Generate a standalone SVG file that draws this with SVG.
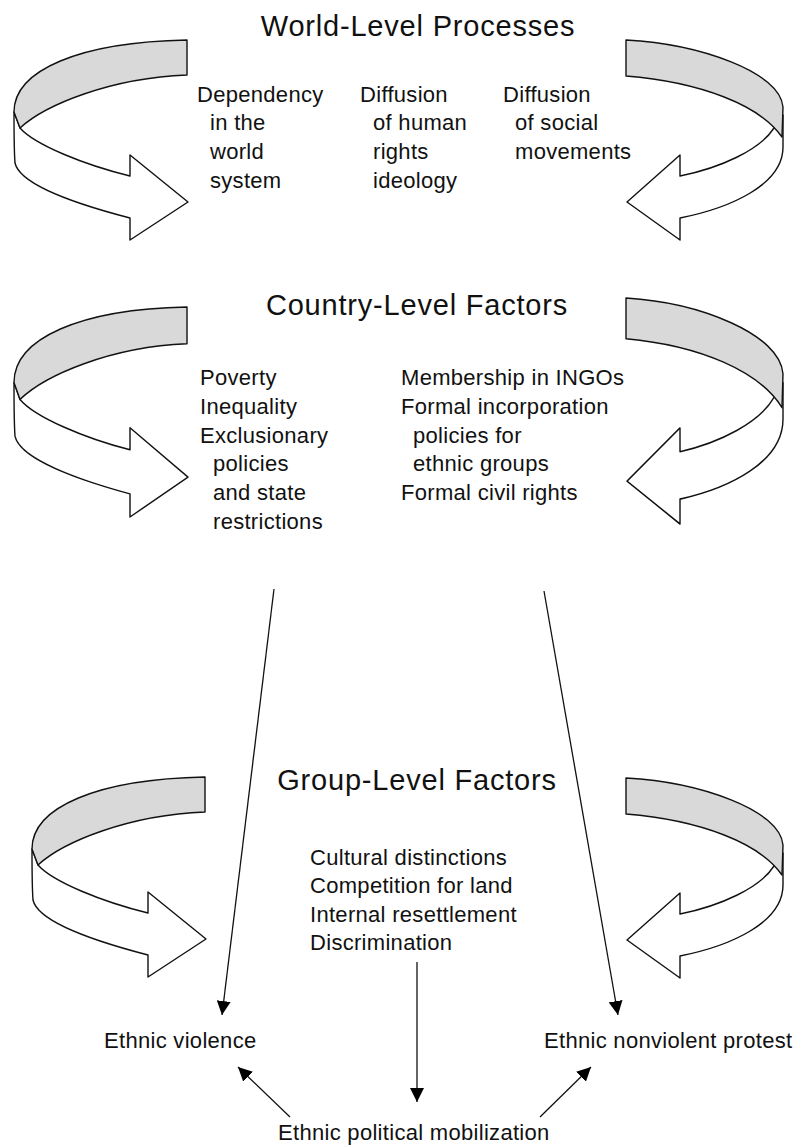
<svg xmlns="http://www.w3.org/2000/svg" xmlns:xlink="http://www.w3.org/1999/xlink" width="802" height="1147" viewBox="0 0 802 1147">
<style>
.t{font-family:"Liberation Sans",Arial,sans-serif;font-size:22px;fill:#111;letter-spacing:0.3px}
.h{font-family:"Liberation Sans",Arial,sans-serif;font-size:29px;fill:#111;letter-spacing:0.8px;text-anchor:middle}
.band{fill:#d9d9d9;stroke:#111;stroke-width:1.4;stroke-linejoin:round}
.wht{fill:#fff;stroke:#111;stroke-width:1.4;stroke-linejoin:round}
.con{stroke:#111;stroke-width:1.3;fill:none}
</style>
<defs>
<marker id="ah" viewBox="0 0 14 14" refX="14" refY="7" markerWidth="14" markerHeight="14" orient="auto" markerUnits="userSpaceOnUse"><path d="M0,0 L14,7 L0,14 z" fill="#000"/></marker>
<g id="curlL">
<path class="wht" d="M20,128 C35,145 85,165 130,176 L130,155 L188,202 L130,240 L130,218 C80,205 20,185 15,163 C14,150 14,130 14,112 Z"/>
<path class="band" d="M187,40 L187,75 C110,78 45,105 20,128 L14,112 C14,70 80,42 187,40 Z"/>
</g>
<g id="curlR">
<path class="wht" d="M774,128 C760,150 720,168 680,176 L680,155 L627,202 L680,240 L680,218 C730,208 783,185 783,147 L783,115 Z"/>
<path class="band" d="M626,40 C700,44 780,72 783,107 L782,137 C760,105 700,82 626,76 Z"/>
</g>
</defs>
<rect width="802" height="1147" fill="#fff"/>

<g id="world-level">
<use xlink:href="#curlL"/>
<use xlink:href="#curlR"/>
<text class="h" x="418" y="36">World-Level Processes</text>
<text class="t" x="197" y="102">Dependency</text>
<text class="t" x="210" y="130">in the</text>
<text class="t" x="210" y="159">world</text>
<text class="t" x="210" y="188">system</text>
<text class="t" x="360" y="102">Diffusion</text>
<text class="t" x="373" y="130">of human</text>
<text class="t" x="373" y="159">rights</text>
<text class="t" x="373" y="188">ideology</text>
<text class="t" x="503" y="102">Diffusion</text>
<text class="t" x="515" y="130">of social</text>
<text class="t" x="515" y="159">movements</text>
</g>

<g id="country-level">
<use xlink:href="#curlL" transform="matrix(1,0,0,1.05,0,265)"/>
<use xlink:href="#curlR" transform="matrix(1,0,0,1.13,0,252.8)"/>
<text class="h" x="417" y="315">Country-Level Factors</text>
<text class="t" x="200" y="385">Poverty</text>
<text class="t" x="200" y="414">Inequality</text>
<text class="t" x="200" y="443">Exclusionary</text>
<text class="t" x="213" y="471">policies</text>
<text class="t" x="213" y="500">and state</text>
<text class="t" x="213" y="529">restrictions</text>
<text class="t" x="401" y="385">Membership in INGOs</text>
<text class="t" x="401" y="414">Formal incorporation</text>
<text class="t" x="413" y="443">policies for</text>
<text class="t" x="413" y="471">ethnic groups</text>
<text class="t" x="401" y="500">Formal civil rights</text>
</g>

<g id="group-level">
<use xlink:href="#curlL" transform="translate(18,737)"/>
<use xlink:href="#curlR" transform="translate(0,738)"/>
<text class="h" x="417" y="790">Group-Level Factors</text>
<text class="t" x="310" y="865">Cultural distinctions</text>
<text class="t" x="310" y="893">Competition for land</text>
<text class="t" x="310" y="922">Internal resettlement</text>
<text class="t" x="310" y="950">Discrimination</text>
</g>

<g id="ethnic-violence"><text class="t" x="104" y="1048">Ethnic violence</text></g>
<g id="ethnic-protest"><text class="t" x="544" y="1048">Ethnic nonviolent protest</text></g>
<g id="mobilization"><text class="t" x="278" y="1140">Ethnic political mobilization</text></g>

<g id="connectors">
<line class="con" x1="274" y1="589" x2="222" y2="1015" marker-end="url(#ah)"/>
<line class="con" x1="544" y1="591" x2="618" y2="1015" marker-end="url(#ah)"/>
<line class="con" x1="417" y1="962" x2="417" y2="1102" marker-end="url(#ah)"/>
<line class="con" x1="290" y1="1117" x2="238" y2="1067" marker-end="url(#ah)"/>
<line class="con" x1="540" y1="1117" x2="591" y2="1067" marker-end="url(#ah)"/>
</g>
</svg>
